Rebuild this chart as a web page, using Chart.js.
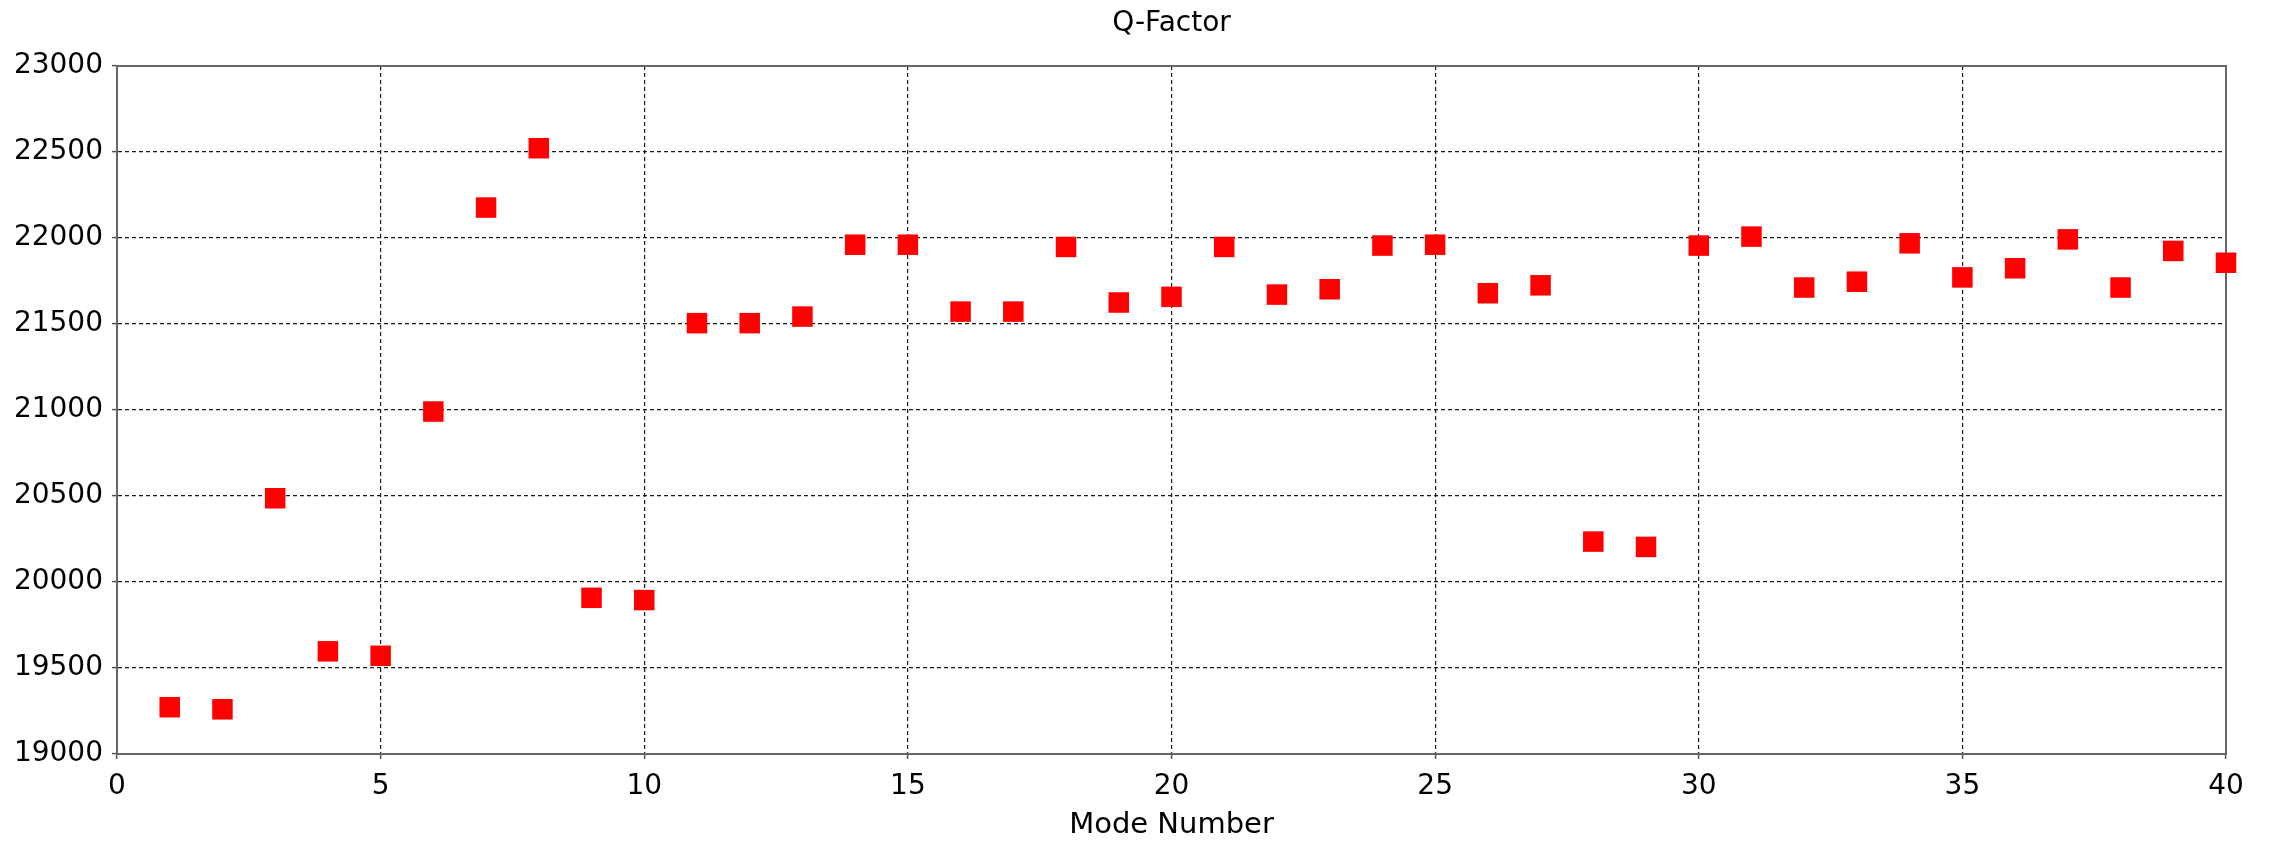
<!DOCTYPE html>
<html>
<head>
<meta charset="utf-8">
<title>Q-Factor</title>
<script src="https://cdn.jsdelivr.net/npm/chart.js@4/dist/chart.umd.min.js"></script>
<style>
  html, body { margin: 0; padding: 0; background: #fff; }
  .chart-wrapper { position: relative; width: 2272px; height: 841px; }
</style>
</head>
<body>
<div class="chart-wrapper"><canvas id="chart-qfactor" width="2272" height="841"></canvas></div>
<script>
var modeNumbers = [1, 2, 3, 4, 5, 6, 7, 8, 9, 10,
  11, 12, 13, 14, 15, 16, 17, 18, 19, 20,
  21, 22, 23, 24, 25, 26, 27, 28, 29, 30,
  31, 32, 33, 34, 35, 36, 37, 38, 39, 40];

var qFactors = [19272, 19260, 20487, 19597, 19571, 20991, 22177, 22522, 19908, 19895,
  21505, 21505, 21543, 21961, 21961, 21572, 21572, 21948, 21625, 21658,
  21948, 21671, 21702, 21956, 21961, 21679, 21725, 20235, 20204, 21956,
  22008, 21712, 21746, 21969, 21771, 21824, 21992, 21712, 21925, 21856];

var xTicks = [0, 5, 10, 15, 20, 25, 30, 35, 40];
var yTicks = [19000, 19500, 20000, 20500, 21000, 21500, 22000, 22500, 23000];

(function () {
  'use strict';

  var FONT = '"DejaVu Sans", sans-serif';
  var TITLE = 'Q-Factor';

  // frame round the plot area, and the title centred over the plot area (not the canvas)
  var framePlugin = {
    id: 'frame',
    beforeDatasetsDraw: function (chart) {
      var a = chart.chartArea, ctx = chart.ctx;
      ctx.save();
      ctx.strokeStyle = '#666';
      ctx.lineWidth = 2;
      ctx.strokeRect(a.left, a.top, a.right - a.left, a.bottom - a.top);
      ctx.restore();
    },
    afterDraw: function (chart) {
      var a = chart.chartArea, ctx = chart.ctx;
      ctx.save();
      ctx.fillStyle = '#000';
      ctx.font = '28px ' + FONT;
      ctx.textAlign = 'center';
      ctx.textBaseline = 'middle';
      ctx.fillText(TITLE, (a.left + a.right) / 2, 24);
      ctx.restore();
    }
  };

  function gridOpts() {
    return {
      color: '#1a1a1a',
      lineWidth: 1.2,
      tickLength: 5,
      tickColor: '#555',
      tickWidth: 1.5,
      tickBorderDash: []
    };
  }

  var points = modeNumbers.map(function (m, i) { return { x: m, y: qFactors[i] }; });

  var ctx = document.getElementById('chart-qfactor').getContext('2d');
  new Chart(ctx, {
    type: 'scatter',
    data: {
      datasets: [{
        label: TITLE,
        data: points,
        pointStyle: 'rect',
        pointRadius: 14.5,
        backgroundColor: '#ff0000',
        borderColor: '#ff0000',
        borderWidth: 0,
        clip: false
      }]
    },
    plugins: [framePlugin],
    options: {
      responsive: false,
      animation: false,
      events: [],
      devicePixelRatio: 1,
      layout: { padding: { left: 0, right: 46, top: 66, bottom: 0 } },
      plugins: {
        legend: { display: false },
        tooltip: { enabled: false },
        title: { display: false }
      },
      scales: {
        x: {
          type: 'linear',
          min: 0,
          max: 40,
          afterBuildTicks: function (s) { s.ticks = xTicks.map(function (v) { return { value: v }; }); },
          afterFit: function (s) { s.height = 87; },
          ticks: { color: '#000', padding: 11, font: { family: FONT, size: 28 } },
          grid: gridOpts(),
          border: { display: true, color: '#666', width: 2, dash: [4, 3] },
          title: {
            display: true,
            text: 'Mode Number',
            color: '#000',
            font: { family: FONT, size: 29, lineHeight: 1 },
            padding: { top: 0, bottom: 1 }
          }
        },
        y: {
          type: 'linear',
          min: 19000,
          max: 23000,
          afterBuildTicks: function (s) { s.ticks = yTicks.map(function (v) { return { value: v }; }); },
          afterFit: function (s) { s.width = 117; },
          ticks: {
            color: '#000',
            padding: 9,
            font: { family: FONT, size: 28 },
            callback: function (v) { return String(v); }
          },
          grid: gridOpts(),
          border: { display: true, color: '#666', width: 2, dash: [4, 3] }
        }
      }
    }
  });
})();
</script>
</body>
</html>
